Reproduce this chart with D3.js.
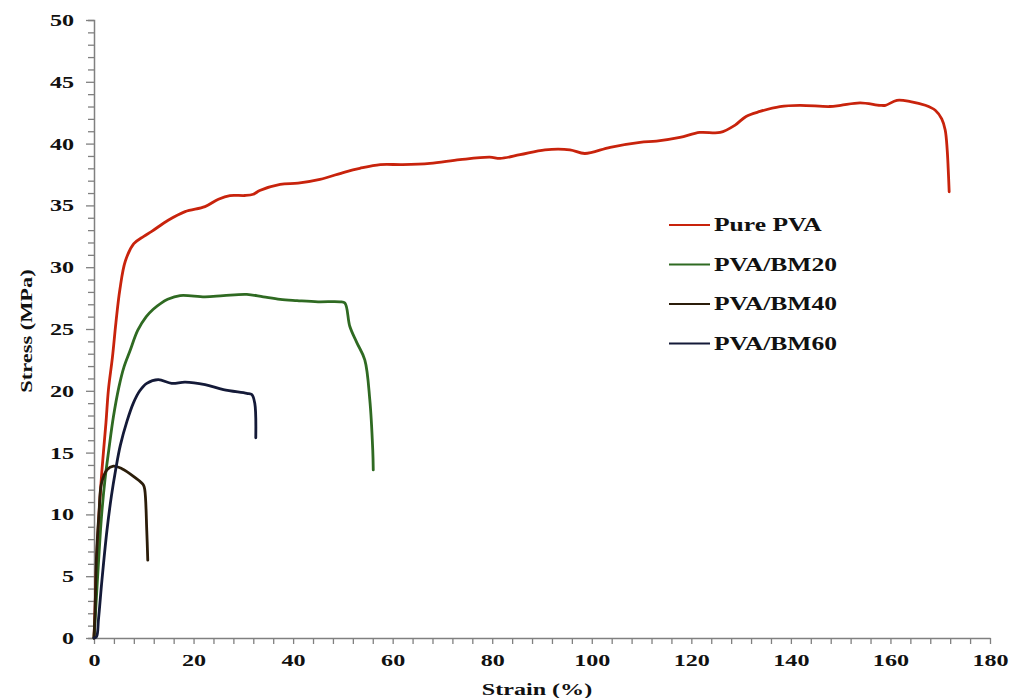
<!DOCTYPE html>
<html>
<head>
<meta charset="utf-8">
<script src="https://cdn.jsdelivr.net/npm/d3@7"></script>
<style>
  body { margin: 0; background: #fff; }
  text { font-family: "Liberation Serif", "Times New Roman", serif; font-weight: bold; fill: #111; }
</style>
</head>
<body>
<div id="graph"></div>
<script>
// courbes contrainte / déformation : [strain %, stress MPa]
var purePVA = [[0,0],[0.2,2.2],[0.5,6.0],[1.0,10.0],[1.6,13.6],[2.4,17.4],[2.9,20.1],[3.7,22.7],
  [4.4,25.5],[5.2,28.2],[6.3,30.5],[8.0,31.9],[10,32.5],[11.6,32.9],[14.9,33.8],[18.3,34.5],
  [22.3,34.9],[25,35.5],[27.3,35.8],[30.3,35.8],[32,35.9],[33.3,36.2],[37.4,36.7],[41,36.8],
  [45.4,37.1],[50.4,37.7],[53.4,38],[57.5,38.3],[62,38.3],[67.5,38.4],[73.5,38.7],[79.5,38.9],
  [81.6,38.8],[85.6,39.1],[90.6,39.5],[95.6,39.5],[98.6,39.2],[103.7,39.7],[109.7,40.1],
  [113,40.2],[117.7,40.5],[121.7,40.9],[125.8,40.9],[128.8,41.5],[131,42.2],[133.8,42.6],
  [137.8,43],[141.8,43.1],[147.8,43.0],[150,43.1],[153.9,43.3],[157.9,43.1],[159,43.1],
  [161.3,43.5],[164,43.4],[167,43.1],[169,42.7],[170.3,42.0],[171,41.1],[171.4,39.5],
  [171.6,38.0],[171.8,36.1]];
var bm20 = [[0,0],[0.3,2.0],[0.9,6.1],[1.5,9.8],[2.2,12.8],[3.0,15.3],[3.9,17.9],[5.0,20.3],
  [6.0,21.9],[7.2,23.2],[8.8,24.9],[10.5,26.0],[11.9,26.6],[13.5,27.1],[14.8,27.4],[17.3,27.7],
  [22.3,27.6],[26,27.7],[30.7,27.8],[34,27.6],[37.4,27.4],[40.8,27.3],[45,27.2],[49.4,27.2],
  [50.4,27.1],[51.4,25.2],[52.8,23.9],[54.4,22.5],[55.4,19.3],[56.0,15.2],[56.1,13.6]];
var bm40 = [[0,0],[0.2,2.0],[0.5,6.6],[1.0,10.1],[1.5,12.5],[2.6,13.6],[3.9,13.9],[5.6,13.7],
  [8.2,13.0],[9.9,12.4],[10.2,12.0],[10.6,8.7],[10.8,6.3]];
var bm60 = [[0,0],[0.5,0.1],[0.9,1.5],[1.6,4.7],[2.6,8.7],[3.5,11.5],[4.3,13.5],[5.3,15.6],
  [6.6,17.5],[7.9,19.0],[9.2,20.0],[10.6,20.6],[12.9,20.9],[15.6,20.6],[18.3,20.7],[22.3,20.5],
  [26,20.1],[30.7,19.8],[31.7,19.7],[32.3,19.0],[32.5,16.2]];

var seriesNames = ["Pure PVA", "PVA/BM20", "PVA/BM40", "PVA/BM60"];
var seriesColors = ["#c8230c", "#2f6a22", "#2b1d0a", "#141a38"];
var seriesData = [purePVA, bm20, bm40, bm60];

var xTicks = d3.range(0, 181, 4);   // graduations tous les 4 %
var yTicks = d3.range(0, 51, 1);    // graduations tous les 1 MPa

var largeur = 1030, hauteur = 698;
var etirement = 1.42; // le texte de l'original est étiré horizontalement

var echelleX = d3.scaleLinear().domain([0, 180]).range([94, 990]);
var echelleY = d3.scaleLinear().domain([0, 50]).range([638, 20]);

var svg = d3.select("#graph").append("svg")
    .attr("width", largeur)
    .attr("height", hauteur);

// Axe X
var axeX = svg.append("g")
    .attr("transform", "translate(0," + echelleY(0) + ")")
    .call(d3.axisBottom(echelleX)
      .tickValues(xTicks)
      .tickSize(6)
      .tickSizeOuter(0)
      .tickFormat(function(d) { return d % 20 === 0 ? d : ""; }));
axeX.select(".domain").attr("stroke", "#808080").attr("stroke-width", 1.5);
axeX.selectAll(".tick line").attr("stroke", "#808080").attr("stroke-width", 1.3);
axeX.selectAll(".tick text")
    .attr("y", 28).attr("dy", 0)
    .attr("transform", "scale(" + etirement + ",1)")
    .style("font-size", "17px");

// Axe Y
var axeY = svg.append("g")
    .attr("transform", "translate(" + echelleX(0) + ",0)")
    .call(d3.axisLeft(echelleY)
      .tickValues(yTicks)
      .tickSizeOuter(0)
      .tickSize(6)
      .tickFormat(function(d) { return d % 5 === 0 ? d : ""; }));
axeY.select(".domain").attr("stroke", "#808080").attr("stroke-width", 1.5);
axeY.selectAll(".tick line")
    .attr("stroke", "#808080").attr("stroke-width", 1.3)
    .attr("x2", function(d) { return d % 5 === 0 ? -8 : -6; });
axeY.selectAll(".tick text")
    .attr("x", -14)
    .attr("transform", "scale(" + etirement + ",1)")
    .style("font-size", "17px");

// Titres des axes
svg.append("text")
    .attr("transform", "translate(537,695) scale(" + etirement + ",1)")
    .style("text-anchor", "middle")
    .style("font-size", "17px")
    .text("Strain (%)");

svg.append("text")
    .attr("transform", "translate(32,331) rotate(-90) scale(1.32,1)")
    .style("text-anchor", "middle")
    .style("font-size", "17px")
    .text("Stress (MPa)");

// Courbes
var ligne = d3.line()
    .x(function(d) { return echelleX(d[0]); })
    .y(function(d) { return echelleY(d[1]); })
    .curve(d3.curveCatmullRom.alpha(0.5));

svg.selectAll(".courbe")
  .data(seriesData)
  .enter()
  .append("path")
    .attr("class", "courbe")
    .attr("d", ligne)
    .attr("fill", "none")
    .attr("stroke", function(d, i) { return seriesColors[i]; })
    .attr("stroke-width", 2.8)
    .attr("stroke-linejoin", "round")
    .attr("stroke-linecap", "round");

// Légende
var legende = svg.selectAll(".legende")
  .data(seriesNames)
  .enter()
  .append("g")
    .attr("class", "legende")
    .attr("transform", function(d, i) { return "translate(669," + (225 + i * 39.5) + ")"; });

legende.append("line")
    .attr("x1", 0).attr("x2", 41)
    .attr("stroke", function(d, i) { return seriesColors[i]; })
    .attr("stroke-width", 2);

legende.append("text")
    .attr("transform", "translate(45,6) scale(" + etirement + ",1)")
    .style("font-size", "18px")
    .text(function(d) { return d; });
</script>
</body>
</html>
